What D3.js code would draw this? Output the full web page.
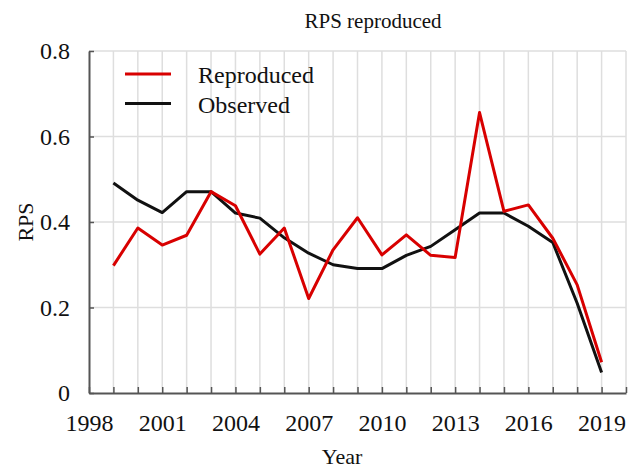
<!DOCTYPE html>
<html>
<head>
<meta charset="utf-8">
<script src="https://cdn.jsdelivr.net/npm/d3@7"></script>
<style>
  html, body { margin: 0; padding: 0; background: #fff; }
  svg text { font-family: "Liberation Serif", "Times New Roman", serif; fill: #111; }
</style>
</head>
<body>
<svg id="chart" width="631" height="469"></svg>
<script>
// Annual RPS values, 1999–2019
const years = [1999, 2000, 2001, 2002, 2003, 2004, 2005, 2006, 2007, 2008, 2009,
               2010, 2011, 2012, 2013, 2014, 2015, 2016, 2017, 2018, 2019];
const reproduced = [0.298, 0.386, 0.346, 0.369, 0.471, 0.438, 0.325, 0.386, 0.221, 0.335, 0.410,
                    0.323, 0.370, 0.322, 0.317, 0.656, 0.425, 0.440, 0.362, 0.253, 0.072];
const observed = [0.491, 0.451, 0.422, 0.471, 0.471, 0.421, 0.409, 0.363, 0.327, 0.300, 0.291,
                  0.291, 0.322, 0.343, 0.382, 0.421, 0.421, 0.390, 0.352, 0.210, 0.048];
const xTickLabels = [1998, 2001, 2004, 2007, 2010, 2013, 2016, 2019];
const yTickLabels = [0, 0.2, 0.4, 0.6, 0.8];
const seriesNames = ["Reproduced", "Observed"];
const seriesColors = ["#d80000", "#111111"];

const svg = d3.select("#chart");
const plotL = 89, plotR = 626, plotT = 51, plotB = 393;

const x = d3.scaleLinear().domain([1998, 2020]).range([plotL, plotR]);
const y = d3.scaleLinear().domain([0, 0.8]).range([plotB, plotT]);

// grid
const grid = svg.append("g").attr("stroke", "#dedede").attr("stroke-width", 1.5);
grid.selectAll("line.v").data(d3.range(1999, 2021)).join("line").attr("class", "v")
  .attr("x1", d => x(d)).attr("x2", d => x(d))
  .attr("y1", plotT).attr("y2", plotB);
grid.selectAll("line.h").data(yTickLabels.filter(d => d > 0)).join("line").attr("class", "h")
  .attr("x1", plotL).attr("x2", plotR)
  .attr("y1", d => y(d)).attr("y2", d => y(d));

// x axis (ticks every year, labels every third)
const xAxis = svg.append("g")
  .attr("transform", `translate(0,${plotB})`)
  .call(d3.axisBottom(x)
    .tickValues(d3.range(1998, 2021))
    .tickSizeInner(-6).tickSizeOuter(0)
    .tickPadding(21)
    .tickFormat(d => xTickLabels.includes(d) ? d : ""));
xAxis.select(".domain").attr("stroke", "#555").attr("stroke-width", 2);
xAxis.selectAll(".tick line").attr("stroke", "#555").attr("stroke-width", 1.5);
xAxis.selectAll(".tick text").attr("font-size", 24).attr("fill", "#111")
  .attr("font-family", "Liberation Serif, serif");

// y axis
const yAxis = svg.append("g")
  .attr("transform", `translate(${plotL},0)`)
  .call(d3.axisLeft(y)
    .tickValues(yTickLabels)
    .tickSizeInner(-5).tickSizeOuter(0)
    .tickPadding(19)
    .tickFormat(d => d === 0 ? "0" : d3.format(".1f")(d)));
yAxis.select(".domain").attr("stroke", "#555").attr("stroke-width", 2);
yAxis.selectAll(".tick line").attr("stroke", "#555").attr("stroke-width", 1.5);
yAxis.selectAll(".tick text").attr("font-size", 24).attr("fill", "#111")
  .attr("font-family", "Liberation Serif, serif");

// series lines, reproduced drawn last so it sits on top
const line = d3.line().x((d, i) => x(years[i])).y(d => y(d));
[observed, reproduced].forEach(vals => {
  svg.append("path").datum(vals)
    .attr("d", line)
    .attr("fill", "none")
    .attr("stroke", vals === reproduced ? seriesColors[0] : seriesColors[1])
    .attr("stroke-width", 3)
    .attr("stroke-linejoin", "round");
});

// legend
const legend = svg.append("g");
seriesNames.forEach((name, k) => {
  const ly = 74 + k * 29.5;
  legend.append("line")
    .attr("x1", 125).attr("x2", 171)
    .attr("y1", ly).attr("y2", ly)
    .attr("stroke", seriesColors[k]).attr("stroke-width", 3);
  legend.append("text")
    .attr("x", 198).attr("y", ly + 9)
    .attr("font-size", 24)
    .text(name);
});

// title and axis titles
svg.append("text")
  .attr("x", 373).attr("y", 28)
  .attr("text-anchor", "middle")
  .attr("font-size", 21)
  .text("RPS reproduced");

svg.append("text")
  .attr("x", 342).attr("y", 464)
  .attr("text-anchor", "middle")
  .attr("font-size", 22)
  .text("Year");

svg.append("text")
  .attr("transform", `translate(33,${(plotT + plotB) / 2}) rotate(-90)`)
  .attr("text-anchor", "middle")
  .attr("font-size", 22)
  .text("RPS");
</script>
</body>
</html>
